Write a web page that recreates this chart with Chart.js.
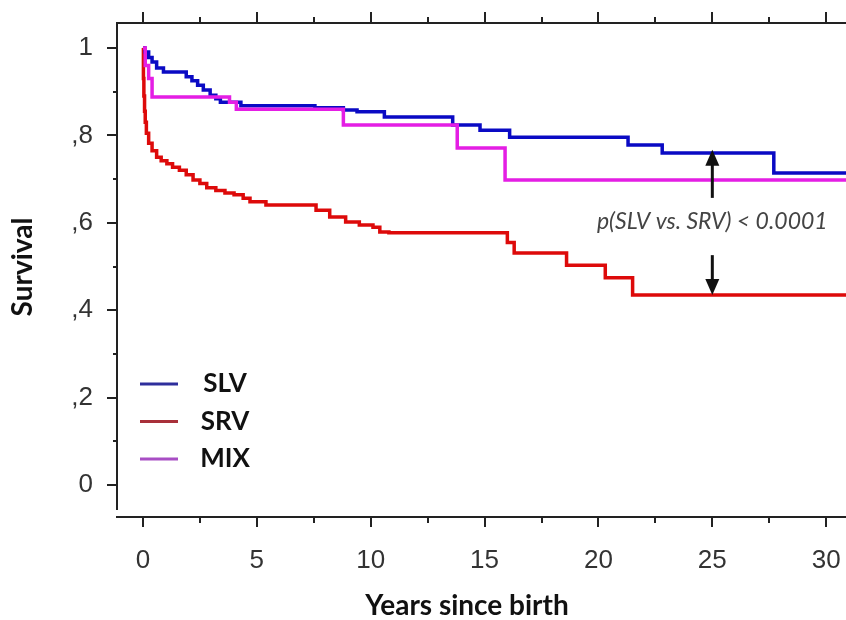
<!DOCTYPE html>
<html>
<head>
<meta charset="utf-8">
<script src="https://cdn.jsdelivr.net/npm/chart.js@4.4.1/dist/chart.umd.min.js"></script>
<style>
html, body { margin: 0; padding: 0; background: #fff; }
</style>
</head>
<body>
<canvas id="km" width="846" height="620"></canvas>
<script>
// Kaplan-Meier curves, values (years, survival)
var seriesNames = ["SLV", "SRV", "MIX"];

var slvYears    = [0, 0.09, 0.25, 0.4, 0.6, 0.9, 1.9, 2.15, 2.4, 2.65, 2.95, 3.2, 3.4, 4.3, 7.55, 8.8, 9.4, 10.6, 13.6, 14.8, 16.1, 21.3, 22.8, 27.7, 31];
var slvSurvival = [1, 0.991, 0.978, 0.968, 0.954, 0.945, 0.934, 0.925, 0.915, 0.904, 0.892, 0.884, 0.876, 0.868, 0.863, 0.858, 0.854, 0.842, 0.824, 0.812, 0.796, 0.778, 0.760, 0.714, 0.714];

var srvYears    = [0, 0.02, 0.04, 0.07, 0.1, 0.15, 0.25, 0.4, 0.6, 0.8, 1.05, 1.3, 1.6, 1.9, 2.2, 2.5, 2.8, 3.2, 3.6, 4.0, 4.4, 4.7, 5.4, 7.6, 8.2, 8.9, 9.5, 10.1, 10.4, 10.8, 16.0, 16.3, 18.6, 20.3, 21.5, 31];
var srvSurvival = [1, 0.93, 0.89, 0.855, 0.83, 0.805, 0.782, 0.765, 0.75, 0.742, 0.735, 0.727, 0.72, 0.71, 0.698, 0.69, 0.68, 0.674, 0.668, 0.664, 0.656, 0.648, 0.641, 0.629, 0.613, 0.602, 0.595, 0.59, 0.579, 0.577, 0.555, 0.531, 0.503, 0.474, 0.435, 0.435];

var mixYears    = [0, 0.1, 0.25, 0.4, 3.8, 4.1, 8.8, 13.8, 15.9, 31];
var mixSurvival = [1, 0.96, 0.93, 0.888, 0.876, 0.86, 0.824, 0.771, 0.698, 0.698];

var xTicks = [0, 5, 10, 15, 20, 25, 30];
var yTicks = [0, 0.2, 0.4, 0.6, 0.8, 1];

var pValueText = "p(SLV vs. SRV) < 0.0001";
var arrowYear = 25;
var upperArrow = [0.657, 0.767];   // from, tip
var lowerArrow = [0.526, 0.435];

var lineColors   = ["#0a0ac4", "#dd0a0a", "#e41ee4"];
var legendColors = ["#2e2e9c", "#a8303a", "#a84ec4"];

function toPoints(xs, ys) {
    var pts = [];
    for (var i = 0; i < xs.length; i++) pts.push({ x: xs[i], y: ys[i] });
    return pts;
}

function yLabel(v) {
    if (v === 0) return "0";
    if (v === 1) return "1";
    return "," + Math.round(v * 10);
}

var tickFont = { family: "'Liberation Sans Narrow', 'Liberation Sans', sans-serif", size: 26 };

function drawArrow(ctx, px, y0, y1) {
    var dir = y1 < y0 ? 1 : -1;
    ctx.beginPath();
    ctx.moveTo(px, y0);
    ctx.lineTo(px, y1 + dir * 14);
    ctx.stroke();
    ctx.beginPath();
    ctx.moveTo(px, y1);
    ctx.lineTo(px - 7, y1 + dir * 16);
    ctx.lineTo(px + 7, y1 + dir * 16);
    ctx.closePath();
    ctx.fill();
}

var frame = {
    id: "frame",
    afterDraw: function (chart) {
        var ctx = chart.ctx;
        var x = chart.scales.x, y = chart.scales.y, a = chart.chartArea;
        var v, px, py, major;

        ctx.save();
        ctx.strokeStyle = "#222";
        ctx.lineWidth = 2;
        ctx.beginPath();
        ctx.moveTo(a.left, a.top);
        ctx.lineTo(a.left, a.bottom - 7);
        ctx.moveTo(a.left - 1, a.top);
        ctx.lineTo(a.right, a.top);
        ctx.moveTo(a.left - 1, a.bottom);
        ctx.lineTo(a.right, a.bottom);
        for (v = 0; v <= 30; v += 2.5) {
            px = Math.round(x.getPixelForValue(v));
            major = v % 5 === 0;
            ctx.moveTo(px, a.bottom);
            ctx.lineTo(px, a.bottom + (major ? 10 : 6));
            ctx.moveTo(px, a.top);
            ctx.lineTo(px, a.top - (major ? 11 : 6));
        }
        for (v = 0; v <= 10; v++) {
            py = Math.round(y.getPixelForValue(v / 10));
            ctx.moveTo(a.left, py);
            ctx.lineTo(a.left - (v % 2 === 0 ? 10 : 4), py);
        }
        ctx.stroke();

        // axis titles
        ctx.fillStyle = "#111";
        ctx.font = "bold 28px Lato";
        ctx.textAlign = "center";
        ctx.textBaseline = "middle";
        ctx.fillText("Years since birth", 467, 606);
        ctx.save();
        ctx.translate(23, 267);
        ctx.rotate(-Math.PI / 2);
        ctx.fillText("Survival", 0, 0);
        ctx.restore();

        // legend
        ctx.font = "bold 26px Lato";
        for (var i = 0; i < seriesNames.length; i++) {
            var ly = 384 + i * 37.5;
            ctx.strokeStyle = legendColors[i];
            ctx.lineWidth = 3;
            ctx.beginPath();
            ctx.moveTo(140, ly);
            ctx.lineTo(178, ly);
            ctx.stroke();
            ctx.fillStyle = "#111";
            ctx.fillText(seriesNames[i], 225, ly);
        }

        // p-value annotation with arrows
        var ax = x.getPixelForValue(arrowYear);
        ctx.fillStyle = "#444";
        ctx.font = "italic 23px Lato";
        ctx.fillText(pValueText, ax, y.getPixelForValue(0.602));
        ctx.strokeStyle = "#111";
        ctx.fillStyle = "#111";
        ctx.lineWidth = 3;
        drawArrow(ctx, ax, y.getPixelForValue(upperArrow[0]), y.getPixelForValue(upperArrow[1]));
        drawArrow(ctx, ax, y.getPixelForValue(lowerArrow[0]), y.getPixelForValue(lowerArrow[1]));
        ctx.restore();
    }
};

var datasets = [
    { label: "SLV", data: toPoints(slvYears, slvSurvival), borderColor: lineColors[0], order: 1 },
    { label: "SRV", data: toPoints(srvYears, srvSurvival), borderColor: lineColors[1], order: 2 },
    { label: "MIX", data: toPoints(mixYears, mixSurvival), borderColor: lineColors[2], order: 0 }
];
datasets.forEach(function (d) {
    d.stepped = "before";
    d.borderWidth = 3.5;
    d.pointRadius = 0;
    d.fill = false;
});

new Chart(document.getElementById("km"), {
    type: "line",
    data: { datasets: datasets },
    plugins: [frame],
    options: {
        responsive: false,
        animation: false,
        layout: { padding: { top: 23, left: 0, right: 0, bottom: 0 } },
        plugins: { legend: { display: false }, tooltip: { enabled: false } },
        scales: {
            x: {
                type: "linear",
                min: -1.14,
                max: 30.87,
                border: { display: false },
                grid: { display: false, drawTicks: false },
                afterBuildTicks: function (s) { s.ticks = xTicks.map(function (v) { return { value: v }; }); },
                afterFit: function (s) { s.height = 103; s.paddingLeft = 0; s.paddingRight = 0; },
                ticks: { padding: 28, font: tickFont, color: "#333", maxRotation: 0, autoSkip: false }
            },
            y: {
                type: "linear",
                min: -0.0732,
                max: 1.0572,
                border: { display: false },
                grid: { display: false, drawTicks: false },
                afterBuildTicks: function (s) { s.ticks = yTicks.map(function (v) { return { value: v }; }); },
                afterFit: function (s) { s.width = 117; s.paddingTop = 0; s.paddingBottom = 0; },
                ticks: { padding: 24, font: tickFont, color: "#333", callback: yLabel }
            }
        }
    }
});
</script>
</body>
</html>
